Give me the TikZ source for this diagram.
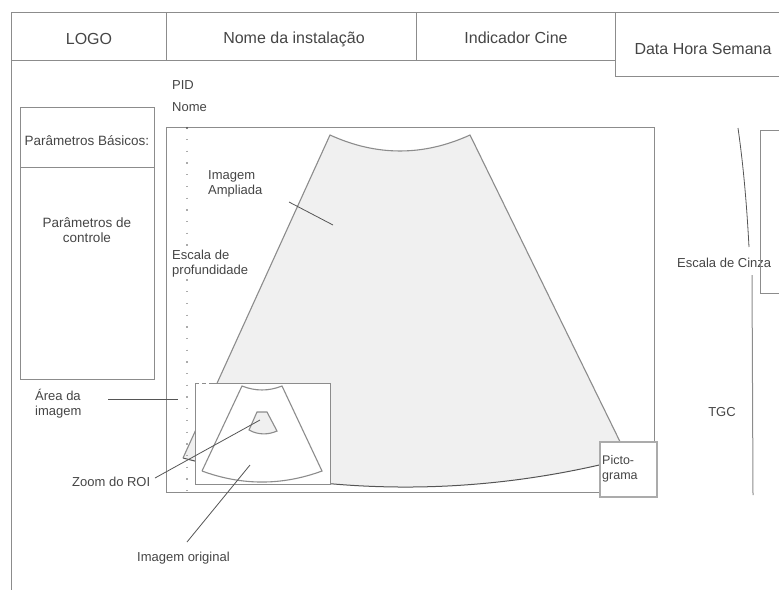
\documentclass[tikz,border=0pt]{standalone}
\usepackage{fontspec}
\setmainfont{Liberation Sans}
\definecolor{linegray}{HTML}{8C8C8C}
\definecolor{lightline}{HTML}{ABABAB}
\definecolor{textgray}{HTML}{454545}
\definecolor{leadgray}{HTML}{555555}
\definecolor{fanfill}{HTML}{F0F0F0}
\begin{document}
\begin{tikzpicture}[x=1pt,y=-1pt,
  frame/.style={draw=linegray, line width=1pt},
  lbl/.style={text=textgray, font=\fontsize{13}{15}\selectfont, inner sep=0pt, align=left},
  clbl/.style={text=textgray, font=\fontsize{13.5}{14.5}\selectfont, inner sep=0pt, align=center},
  hdr/.style={text=textgray, font=\fontsize{16}{19}\selectfont, inner sep=0pt},
  leader/.style={draw=leadgray, line width=0.8pt},
  fanline/.style={draw=linegray, line width=1.1pt}]
\useasboundingbox (0,0) rectangle (779,590);
% outer frame
\draw[frame] (11,12) -- (11,590);
\draw[frame] (11,12) -- (779,12);
\draw[frame] (11,60) -- (615,60);
\draw[frame] (166,12) -- (166,60);
\draw[frame] (416,12) -- (416,60);
\draw[frame] (615,12) -- (615,76) -- (779,76);
% header texts
\node[hdr] (logo) at (89,39) {LOGO};
\node[hdr] (inst) at (294,39) {Nome da instalação};
\node[hdr] (cine) at (516,38) {Indicador Cine};
\node[hdr] (data) at (703,49) {Data Hora Semana};
% left panel
\draw[frame] (20,107) rectangle (154,379);
\draw[frame] (20,167) -- (154,167);
\node[clbl] (basic) at (87,141) {Parâmetros Básicos:};
\node[clbl] (ctrl) at (87,230) {Parâmetros de\\controle};
% PID / Nome
\node[lbl, anchor=west] (pid) at (172,85) {PID};
\node[lbl, anchor=west] (nome) at (172,107) {Nome};
% image area
\draw[frame] (166,127) rectangle (654,492);
% big fan
\path[fill=fanfill] (330,135) .. controls (376.7,156.3) and (423.3,156.3) .. (470,135)
  -- (628,458) .. controls (479.7,496.7) and (331.3,496.7) .. (183,458) -- cycle;
\draw[fanline] (183,458) -- (330,135) .. controls (376.7,156.3) and (423.3,156.3) .. (470,135)
  -- (628,458);
\draw[draw=leadgray, line width=1pt] (628,458) .. controls (479.7,496.7) and (331.3,496.7) .. (183,458);
% depth scale
\draw[draw=lightline, line width=1.3pt, dash pattern=on 1.3pt off 10.4pt] (187,139) -- (187,492);
\fill[leadgray] (187,128) circle (1.2pt);
% inset original image
\fill[white] (195,383) rectangle (330,484);
\draw[frame] (211,383) -- (330,383) -- (330,484) -- (195,484) -- (195,383);
\draw[frame, dash pattern=on 4pt off 3pt] (195,383) -- (211,383);
\draw[fanline] (202,471) -- (242,386) .. controls (255.3,391.3) and (268.7,391.3) .. (282,386)
  -- (322,471) .. controls (282,485.7) and (242,485.7) .. (202,471);
% ROI
\draw[fanline, fill=fanfill] (257,412) -- (267,412) -- (277,431) .. controls (268,435) and (258,435) .. (249,430) -- cycle;
% pictogram
\draw[draw=lightline, line width=1.3pt, fill=white] (600,442) rectangle (657,497);
\node[lbl, anchor=north west, font=\fontsize{12.5}{15.5}\selectfont] (picto) at (602,455) {Picto-\\grama};
% labels
\node[lbl, anchor=west] (ampl) at (208,183.5) {Imagem\\Ampliada};
\node[lbl, anchor=west, fill=white, inner sep=1pt] (prof) at (171,263.5) {Escala de\\profundidade};
\node[lbl, anchor=west] (area) at (35,404) {Área da\\imagem};
\node[lbl, anchor=west] (zoomroi) at (72,482) {Zoom do ROI};
\node[lbl, anchor=west] (orig) at (137,558) {Imagem original};
\node[lbl, anchor=west] (cinza) at (677,263) {Escala de Cinza};
\node[lbl] (tgc) at (722,412) {TGC};
% leader coordinates
\coordinate (amplA) at (289,202);
\coordinate (amplB) at (333,225);
\coordinate (areaA) at (108,399);
\coordinate (areaB) at (178,399);
\coordinate (roiA) at (155,478);
\coordinate (roiB) at (260,420);
\coordinate (origA) at (187,542);
\coordinate (origB) at (250,465);
\coordinate (cinzaA) at (738,128);
\coordinate (cinzaB) at (749,247);
\coordinate (tgcA) at (752,275);
\coordinate (tgcB) at (753,495);
\draw[leader] (amplA) -- (amplB);
\draw[leader] (areaA) -- (areaB);
\draw[leader] (roiA) -- (roiB);
\draw[leader] (origA) -- (origB);
\draw[leader] (cinzaA) .. controls (744,170) and (747,210) .. (cinzaB);
\draw[frame] (tgcA) -- (tgcB);
% gray scale box
\draw[frame] (779,130) -- (760,130) -- (760,293) -- (779,293);
\end{tikzpicture}
\end{document}
